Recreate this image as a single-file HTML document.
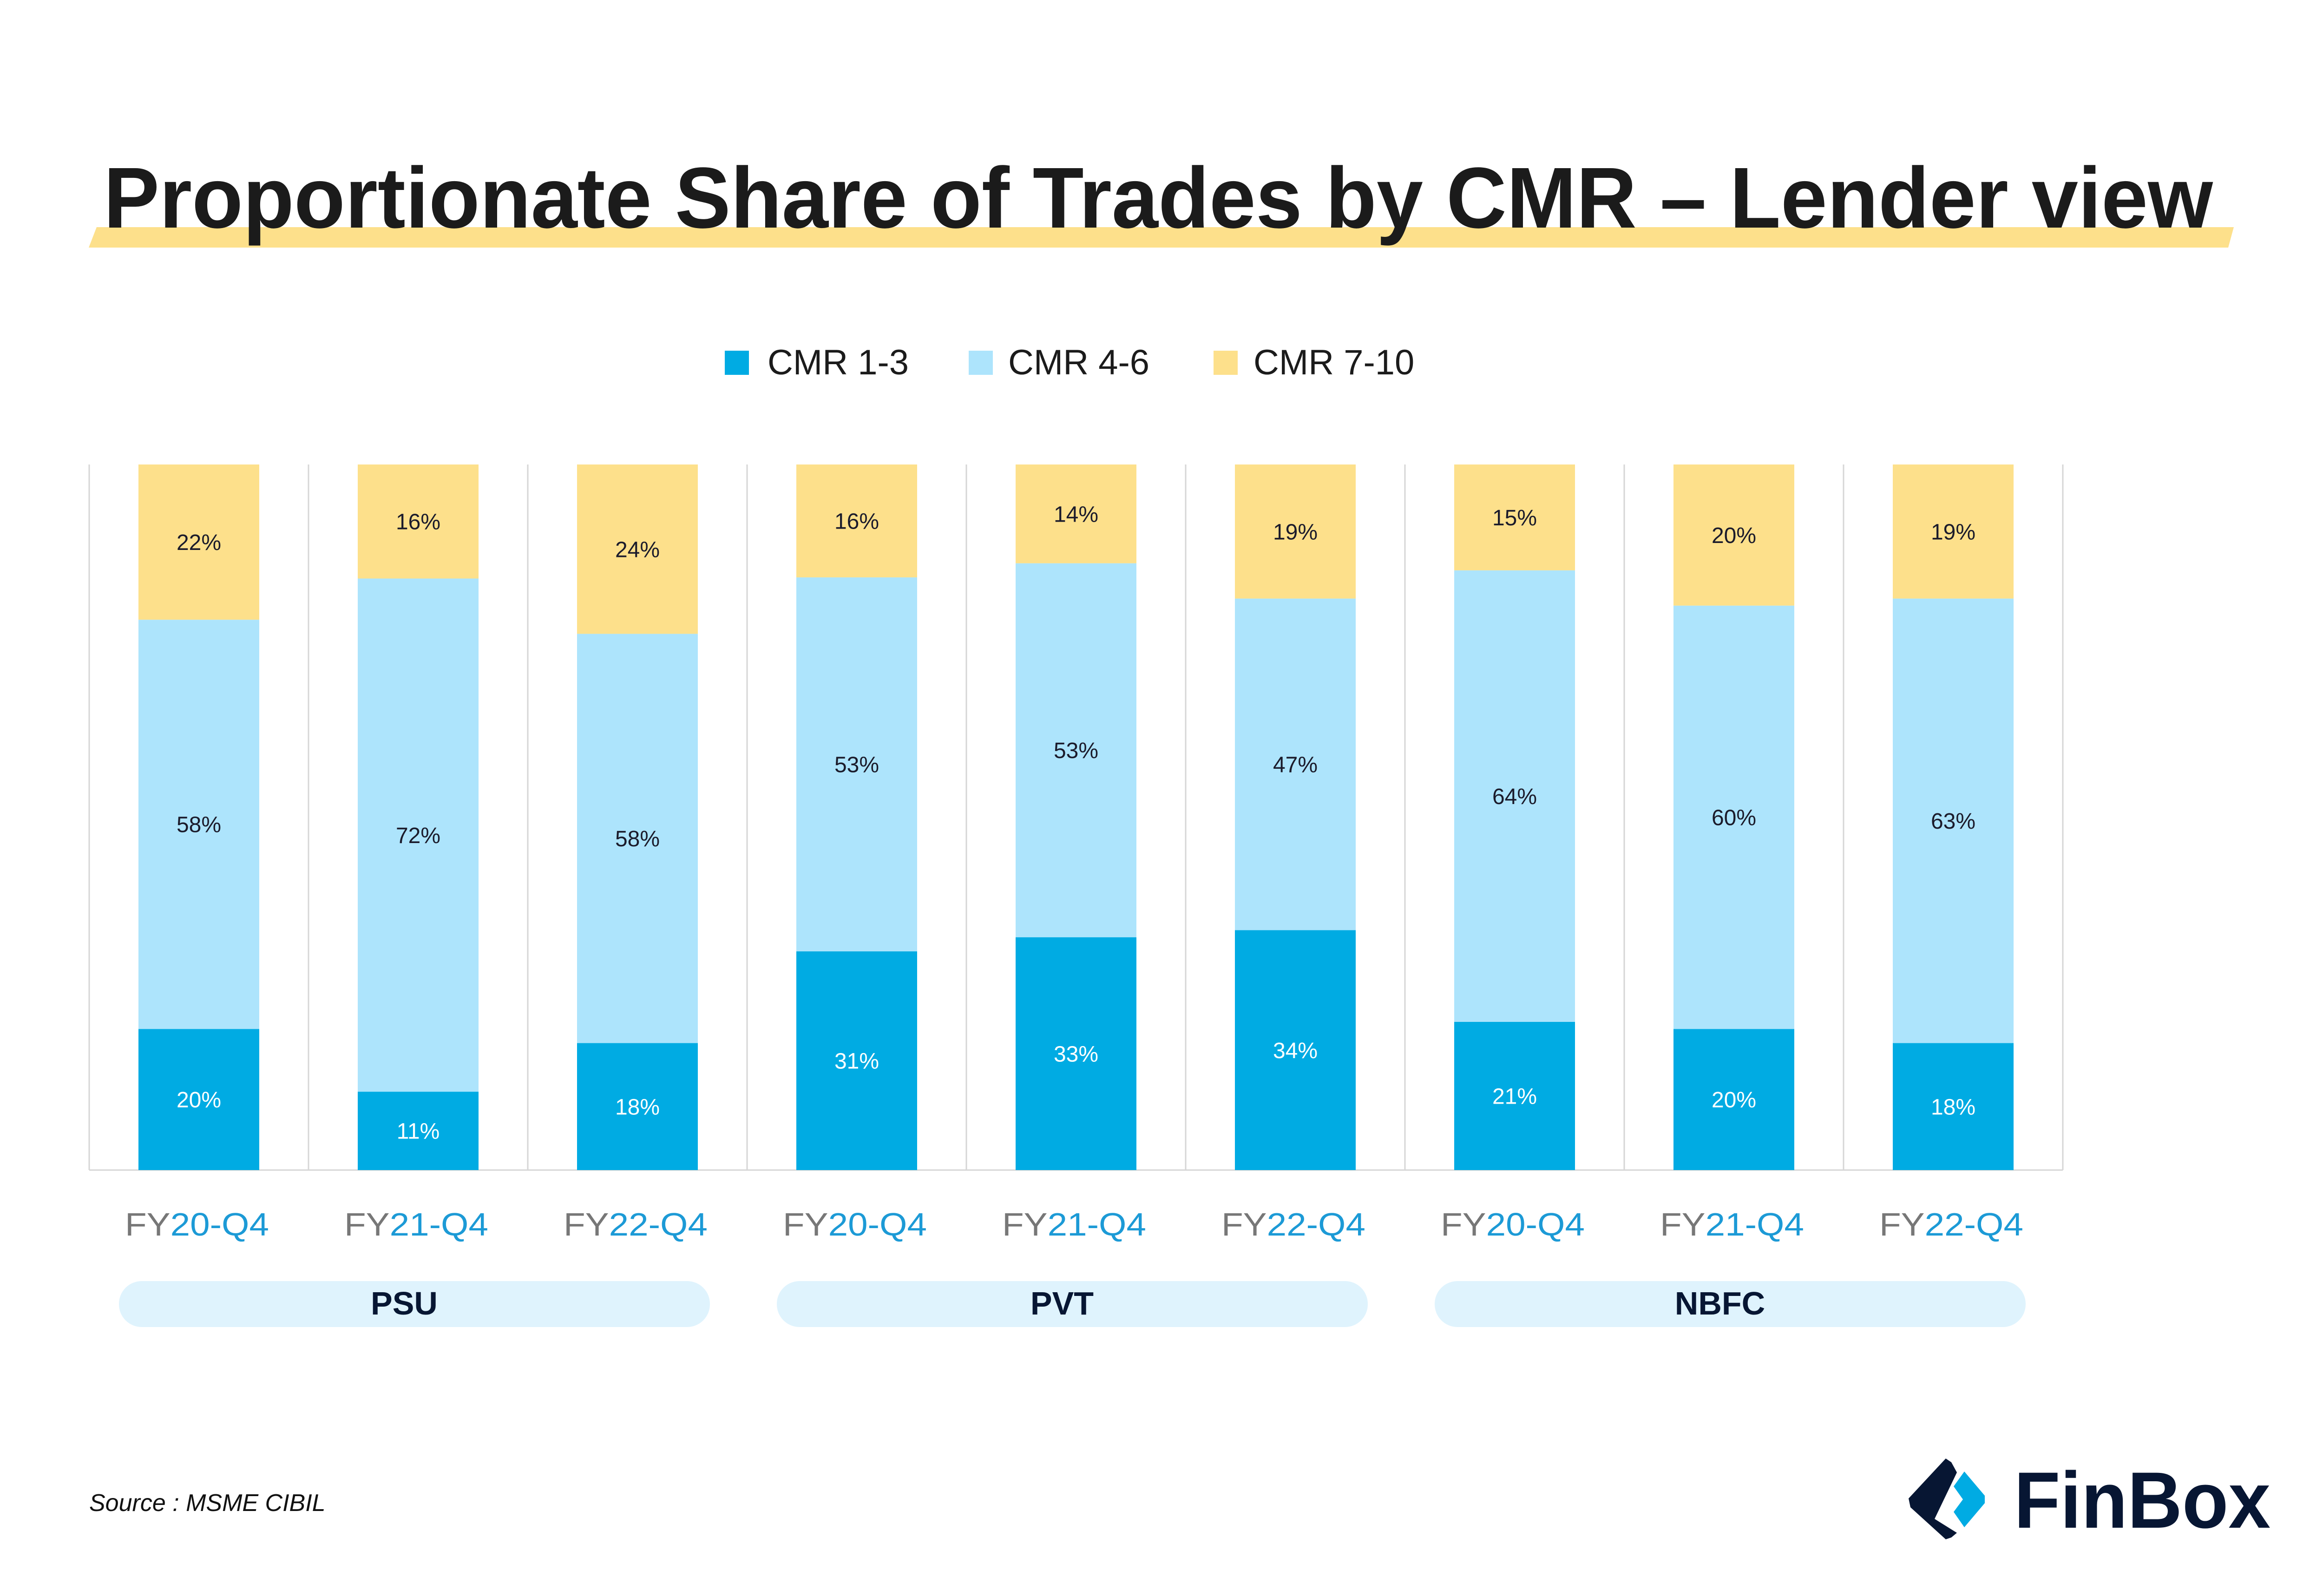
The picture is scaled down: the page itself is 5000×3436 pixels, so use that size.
<!DOCTYPE html>
<html><head><meta charset="utf-8"><style>
html,body{margin:0;padding:0;background:#fff;}
svg{display:block;font-family:"Liberation Sans",sans-serif;}
</style></head><body>
<svg id="chart" width="5000" height="3436" viewBox="0 0 5000 3436" xmlns="http://www.w3.org/2000/svg">
<polygon points="208,489 4808,489 4796,533 191,533" fill="#FDE08B"/>
<text x="2493" y="490" text-anchor="middle" font-size="186" font-weight="bold" fill="#1b1b1b" textLength="4540" lengthAdjust="spacingAndGlyphs">Proportionate Share of Trades by CMR – Lender view</text>
<g>
<rect x="1560" y="755" width="52" height="52" fill="#00ABE3"/>
<text x="1652" y="806" font-size="76" fill="#1b1b1b">CMR 1-3</text>
<rect x="2085" y="755" width="52" height="52" fill="#ADE4FC"/>
<text x="2170" y="806" font-size="76" fill="#1b1b1b">CMR 4-6</text>
<rect x="2612" y="755" width="52" height="52" fill="#FDE08B"/>
<text x="2698" y="806" font-size="76" fill="#1b1b1b">CMR 7-10</text>
</g>
<g id="plot"></g>
<text x="192" y="3253" font-size="52" font-style="italic" fill="#111">Source : MSME CIBIL</text>
<g>
<path d="M4188,3140 L4200,3148 L4212,3170 L4164,3270 L4212,3300 L4200,3310 L4188,3314 L4112,3245 L4108,3226 Z" fill="#071633"/>
<path d="M4228,3168 L4272,3220 L4272,3236 L4228,3288 L4205,3255 L4225,3228 L4205,3200 Z" fill="#00ABE3"/>
<text x="4335" y="3289" font-size="172" font-weight="bold" fill="#071633" textLength="552" lengthAdjust="spacingAndGlyphs">FinBox</text>
</g>
</svg>
<script>
const categories = ["FY20-Q4","FY21-Q4","FY22-Q4","FY20-Q4","FY21-Q4","FY22-Q4","FY20-Q4","FY21-Q4","FY22-Q4"];
const groups = ["PSU","PVT","NBFC"];
const cmr13 = [20,11,18,31,33,34,21,20,18];
const cmr46 = [58,72,58,53,53,47,64,60,63];
const cmr710 = [22,16,24,16,14,19,15,20,19];

const NS="http://www.w3.org/2000/svg";
const plot=document.getElementById('plot');
const plotLeft=192, slot=472, plotTop=1000, plotBase=2519, barW=260;
const xC=i=>plotLeft+slot*(i+0.5);
const yS=(v,t)=>(plotBase-plotTop)*v/t;
function mk(tag,attrs){const e=document.createElementNS(NS,tag);for(const k in attrs)e.setAttribute(k,attrs[k]);plot.appendChild(e);return e;}

for(let i=0;i<=categories.length;i++){
  const l=mk('line',{x1:plotLeft+slot*i,x2:plotLeft+slot*i,y1:plotTop,y2:plotBase,stroke:'#d6d6d6','stroke-width':3});
  
  
}
const ax=mk('line',{x1:plotLeft,x2:plotLeft+slot*categories.length,y1:plotBase,y2:plotBase,stroke:'#d6d6d6','stroke-width':3});



const series=[{v:cmr13,c:'#00ABE3',tc:'#ffffff',n:'cmr-1-3'},{v:cmr46,c:'#ADE4FC',tc:'#1b1b2b',n:'cmr-4-6'},{v:cmr710,c:'#FDE08B',tc:'#1b1b2b',n:'cmr-7-10'}];
categories.forEach((cat,i)=>{
  const tot=cmr13[i]+cmr46[i]+cmr710[i];
  let y=plotBase;
  series.forEach(s=>{
    const h=yS(s.v[i],tot);
    const r=mk('rect',{x:xC(i)-barW/2,y:y-h,width:barW,height:h,fill:s.c});
    
    
    const t=mk('text',{x:xC(i),y:y-h/2+17,'text-anchor':'middle','font-size':48,fill:s.tc});
    t.textContent=s.v[i]+'%';
    
    
    y-=h;
  });
  const lab=mk('text',{x:xC(i)-4,y:2660,'text-anchor':'middle','font-size':70,textLength:310,lengthAdjust:'spacingAndGlyphs'});
  const a=document.createElementNS(NS,'tspan');a.setAttribute('fill','#777');a.textContent=cat.slice(0,2);lab.appendChild(a);
  const b=document.createElementNS(NS,'tspan');b.setAttribute('fill','#1C9AD6');b.textContent=cat.slice(2);lab.appendChild(b);
  
  
});
groups.forEach((g,j)=>{
  const cx=plotLeft+slot*(3*j+1.5)-8;
  const p=mk('rect',{x:cx-636,y:2758,width:1272,height:99,rx:49,fill:'#DFF3FD'});
  
  
  const t=mk('text',{x:cx-22,y:2830,'text-anchor':'middle','font-size':70,'font-weight':'bold',fill:'#071633'});
  t.textContent=g;
  
  
});
</script>
</body></html>
